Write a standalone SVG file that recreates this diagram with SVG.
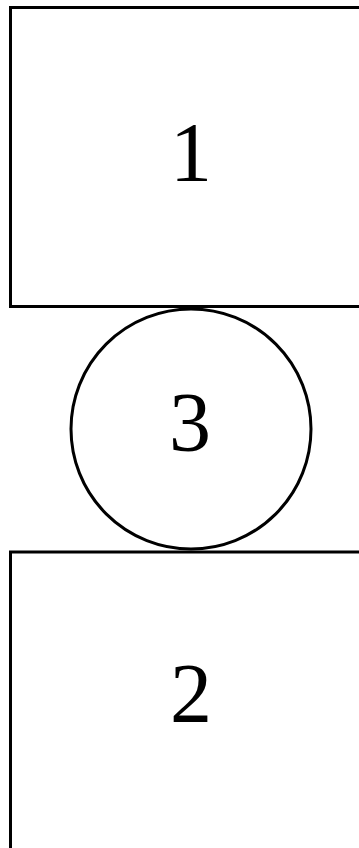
<svg xmlns="http://www.w3.org/2000/svg" width="359" height="848" viewBox="0 0 359 848">
<style>
.box{fill:#fff;stroke:#000;stroke-width:3}
.lbl{font-family:"Liberation Serif","Times New Roman",serif;font-size:84px;fill:#000;text-anchor:middle}
</style>
<rect width="359" height="848" fill="#fff"/>
<g id="connectors"></g>
<g id="node1">
<rect class="box" x="10.5" y="7.5" width="400" height="299"/>
<text class="lbl" x="191" y="181">1</text>
</g>
<g id="node2">
<rect class="box" x="10.5" y="552" width="400" height="400"/>
<text class="lbl" x="191" y="722">2</text>
</g>
<g id="node3">
<circle class="box" cx="191" cy="429" r="120" fill="none"/>
<text class="lbl" x="190" y="451">3</text>
</g>
</svg>
